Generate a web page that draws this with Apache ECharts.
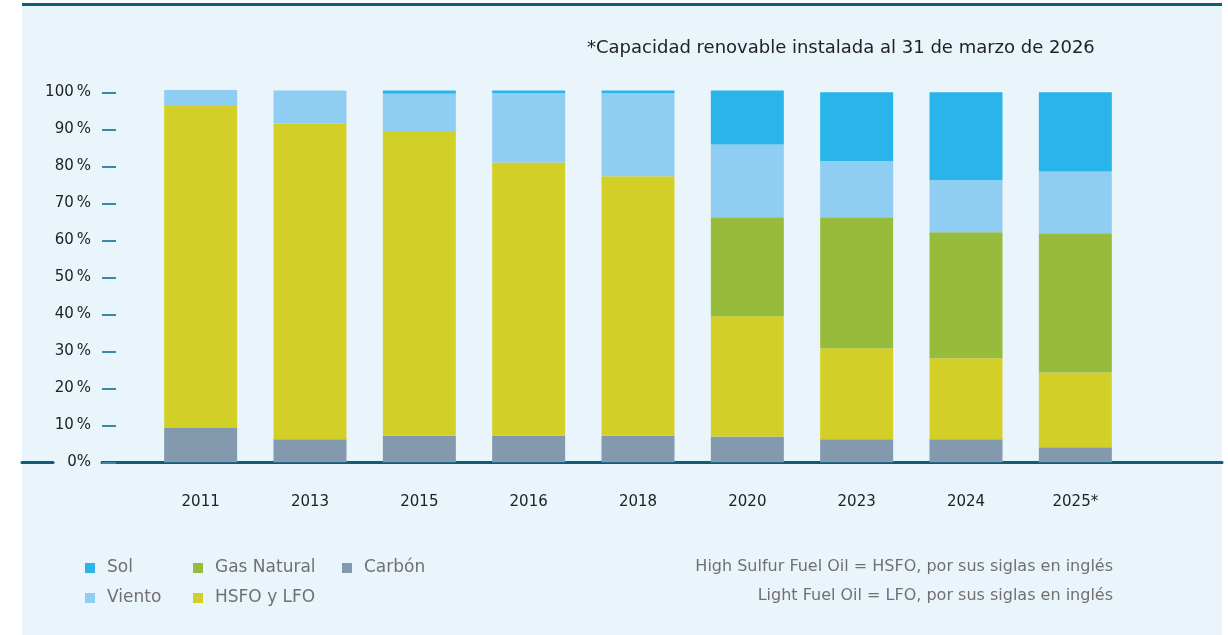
<!DOCTYPE html>
<html>
<head>
<meta charset="utf-8">
<script src="https://cdn.jsdelivr.net/npm/echarts@6/dist/echarts.min.js"></script>
<style>
  html, body { margin: 0; padding: 0; background: #ffffff; }
  #panel { position: absolute; left: 22px; top: 3px; width: 1200px; height: 632px;
           background: #eaf5fb; border-top: 3px solid #0f5d78; box-sizing: border-box; }
  #chart { position: absolute; left: 0; top: 0; width: 1228px; height: 635px; }
</style>
</head>
<body>
<div id="panel"></div>
<div id="chart"></div>
<script>
// ---- data ----
const years = ['2011', '2013', '2015', '2016', '2018', '2020', '2023', '2024', '2025*'];
const carbon = [9.3, 6.2, 7.2, 7.2, 7.2, 7.0, 6.2, 6.2, 4.1];
const hsfo   = [87.0, 85.4, 82.1, 73.8, 70.1, 32.5, 24.6, 21.9, 20.2];
const gas    = [0, 0, 0, 0, 0, 26.7, 35.4, 34.1, 37.6];
const viento = [4.3, 8.9, 10.3, 18.8, 22.5, 19.7, 15.2, 14.0, 16.7];
const sol    = [0, 0, 0.9, 0.7, 0.7, 14.6, 18.6, 23.8, 21.4];
const yTicks = [0, 10, 20, 30, 40, 50, 60, 70, 80, 90, 100];
const note = '*Capacidad renovable instalada al 31 de marzo de 2026';
const footnote1 = 'High Sulfur Fuel Oil = HSFO, por sus siglas en inglés';
const footnote2 = 'Light Fuel Oil = LFO, por sus siglas en inglés';

const colors = { sol: '#29b5e9', viento: '#8fcef2', gas: '#97bc3c', hsfo: '#d2d027', carbon: '#8399ad' };
const FONT = 'DejaVu Sans';

const chart = echarts.init(document.getElementById('chart'), null, { renderer: 'canvas' });

function bar(name, data, color) {
  return {
    name, type: 'bar', stack: 'total', data, barWidth: 73, clip: false,
    xAxisIndex: 0, yAxisIndex: 0,
    itemStyle: { color }, emphasis: { disabled: true }
  };
}

const legendBase = {
  orient: 'vertical', icon: 'rect', itemWidth: 10, itemHeight: 10, itemGap: 12,
  selectedMode: false, padding: 0,
  textStyle: { color: '#707070', fontSize: 17, fontFamily: FONT, lineHeight: 18, padding: [0, 0, 0, 7] }
};

chart.setOption({
  backgroundColor: 'transparent',
  animation: false,
  title: [
    { text: note, left: 587, top: 39, padding: 0, textStyle: { color: '#222', fontSize: 18, fontWeight: 'normal', fontFamily: FONT } },
    { text: footnote1, right: 115, top: 559, padding: 0, textStyle: { color: '#707070', fontSize: 16, fontWeight: 'normal', fontFamily: FONT } },
    { text: footnote2, right: 115, top: 588, padding: 0, textStyle: { color: '#707070', fontSize: 16, fontWeight: 'normal', fontFamily: FONT } }
  ],
  legend: [
    Object.assign({}, legendBase, { data: ['Sol', 'Viento'], left: 85, top: 559 }),
    Object.assign({}, legendBase, { data: ['Gas Natural', 'HSFO y LFO'], left: 193, top: 559 }),
    Object.assign({}, legendBase, { data: ['Carbón'], left: 342, top: 559 })
  ],
  grid: [
    { left: 146, right: 98, top: 92.3, bottom: 172.7 },
    { left: 102, right: 6, top: 92.3, bottom: 172.7 },
    { left: 22, width: 31, top: 92.3, bottom: 172.7 }
  ],
  xAxis: [
    { type: 'category', gridIndex: 0, data: years,
      axisLine: { show: false }, axisTick: { show: false },
      axisLabel: { color: '#222', fontSize: 15, fontFamily: FONT, margin: 32 } },
    { type: 'value', gridIndex: 1, min: 0, max: 1,
      axisLine: { show: true, lineStyle: { color: '#0f5d78', width: 3 } },
      axisTick: { show: false }, axisLabel: { show: false }, splitLine: { show: false } },
    { type: 'value', gridIndex: 2, min: 0, max: 1,
      axisLine: { show: true, lineStyle: { color: '#0f5d78', width: 3 } },
      axisTick: { show: false }, axisLabel: { show: false }, splitLine: { show: false } }
  ],
  yAxis: [
    { type: 'value', gridIndex: 0, min: 0, max: 100, interval: 10, offset: 44,
      axisLine: { show: false },
      axisTick: { show: true, inside: true, length: 14, lineStyle: { color: '#3d88a6', width: 2 } },
      splitLine: { show: false },
      axisLabel: { color: '#222', fontSize: 15, fontFamily: FONT, margin: 11,
        formatter: v => yTicks.includes(v) ? (v === 0 ? '0%' : v + '\u2009%') : '' } },
    { type: 'value', gridIndex: 1, min: 0, max: 1, show: false },
    { type: 'value', gridIndex: 2, min: 0, max: 1, show: false }
  ],
  series: [
    bar('Carbón', carbon, colors.carbon),
    bar('HSFO y LFO', hsfo, colors.hsfo),
    bar('Gas Natural', gas, colors.gas),
    bar('Viento', viento, colors.viento),
    bar('Sol', sol, colors.sol)
  ]
});
</script>
</body>
</html>
